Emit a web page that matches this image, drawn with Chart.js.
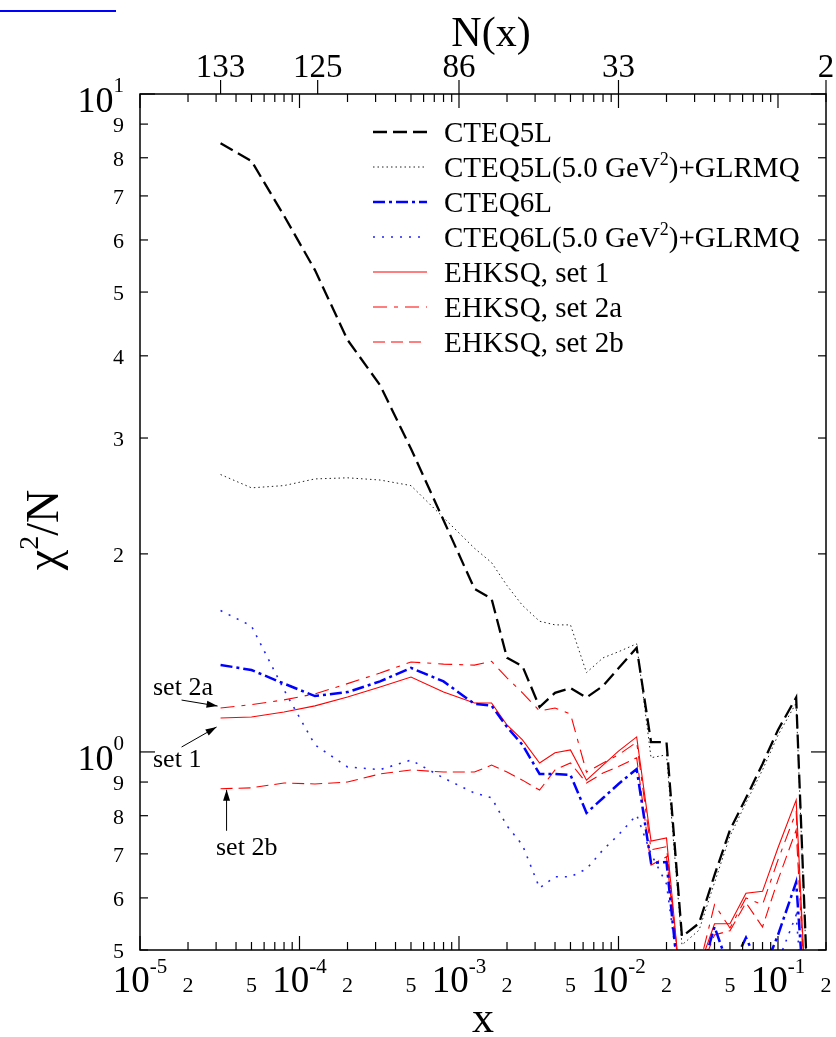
<!DOCTYPE html>
<html>
<head>
<meta charset="utf-8">
<script src="https://cdn.jsdelivr.net/npm/chart.js@4.4.1/dist/chart.umd.min.js"></script>
<style>
  html, body { margin: 0; padding: 0; background: #fff; }
  #wrap { position: relative; width: 836px; height: 1037px; }
  #bar { position: absolute; left: 0; top: 10px; width: 116px; height: 2px; background: #0000ff; }
</style>
</head>
<body>
<div id="wrap">
  <canvas id="chi2Chart" width="836" height="1037"></canvas>
  <div id="bar"></div>
</div>
<script>
// x bins shared by all curves
const xValues = [3.2e-5, 5.0e-5, 8.0e-5, 1.25e-4, 2.0e-4, 3.2e-4, 5.0e-4, 8.0e-4, 1.25e-3, 1.6e-3,
                 2.0e-3, 2.5e-3, 3.2e-3, 4.0e-3, 5.0e-3, 6.3e-3, 8.0e-3, 1.0e-2, 1.3e-2, 1.6e-2,
                 2.0e-2, 2.5e-2, 3.2e-2, 4.0e-2, 5.0e-2, 6.3e-2, 8.0e-2, 1.0e-1, 1.3e-1, 1.6e-1];

const cteq5l = [8.42, 7.91, 6.53, 5.40, 4.23, 3.61, 2.89, 2.25, 1.77, 1.71,
                1.39, 1.35, 1.17, 1.23, 1.25, 1.21, 1.26, 1.34, 1.44, 1.035,
                1.035, 0.524, 0.549, 0.65, 0.761, 0.851, 0.959, 1.08, 1.21, 0.334];
const cteq5lGlrmq = [2.64, 2.52, 2.54, 2.60, 2.61, 2.59, 2.54, 2.27, 2.04, 1.94,
                     1.79, 1.67, 1.58, 1.56, 1.56, 1.32, 1.39, 1.42, 1.46, 0.98,
                     0.99, 0.509, 0.536, 0.633, 0.745, 0.837, 0.939, 1.06, 1.187, 0.33];
const cteq6l = [1.356, 1.332, 1.27, 1.216, 1.233, 1.28, 1.342, 1.28, 1.183, 1.176,
                1.091, 1.025, 0.926, 0.926, 0.923, 0.808, 0.851, 0.894, 0.942, 0.678,
                0.68, 0.40, 0.45, 0.542, 0.465, 0.522, 0.46, 0.527, 0.634, 0.31];
const cteq6lGlrmq = [1.64, 1.554, 1.242, 1.025, 0.949, 0.94, 0.972, 0.913, 0.866, 0.852,
                     0.772, 0.722, 0.621, 0.646, 0.646, 0.664, 0.71, 0.748, 0.802, 0.70,
                     0.63, 0.42, 0.42, 0.45, 0.44, 0.46, 0.45, 0.48, 0.565, 0.3];
const ehksq1 = [1.126, 1.13, 1.15, 1.175, 1.212, 1.255, 1.30, 1.233, 1.187, 1.187,
                1.099, 1.043, 0.962, 0.997, 1.007, 0.906, 0.955, 1.003, 1.054, 0.732,
                0.74, 0.418, 0.47, 0.548, 0.548, 0.61, 0.614, 0.715, 0.845, 0.3];
const ehksq2a = [1.166, 1.18, 1.20, 1.225, 1.27, 1.318, 1.37, 1.36, 1.355, 1.373,
                 1.296, 1.23, 1.154, 1.166, 1.142, 0.932, 0.962, 0.99, 1.035, 0.71,
                 0.718, 0.42, 0.47, 0.586, 0.54, 0.60, 0.586, 0.685, 0.811, 0.3];
const ehksq2b = [0.879, 0.882, 0.897, 0.894, 0.90, 0.926, 0.939, 0.932, 0.932, 0.955,
                 0.932, 0.906, 0.875, 0.939, 0.962, 0.897, 0.929, 0.95, 0.98, 0.673,
                 0.693, 0.42, 0.46, 0.527, 0.535, 0.59, 0.542, 0.639, 0.761, 0.3];

// axis labels
const xLabelValues = [1e-5, 2e-5, 5e-5, 1e-4, 2e-4, 5e-4, 1e-3, 2e-3, 5e-3, 1e-2, 2e-2, 5e-2, 1e-1, 2e-1];
const xLabelText = ['10^{-5}', '2', '5', '10^{-4}', '2', '5', '10^{-3}', '2', '5', '10^{-2}', '2', '5', '10^{-1}', '2'];
const yLabelValues = [0.5, 0.6, 0.7, 0.8, 0.9, 1, 2, 3, 4, 5, 6, 7, 8, 9, 10];
const yLabelText = ['5', '6', '7', '8', '9', '10^{0}', '2', '3', '4', '5', '6', '7', '8', '9', '10^{1}'];
const topLabelValues = [3.2e-5, 1.3e-4, 1e-3, 1e-2, 2e-1];
const topLabelText = ['133', '125', '86', '33', '2'];

const SERIF = '"Liberation Serif", "DejaVu Serif", serif';

function splitSup(str) {
    const out = [];
    const re = /\^\{([^}]*)\}/g;
    let last = 0, m;
    while ((m = re.exec(str))) {
        if (m.index > last) out.push({ t: str.slice(last, m.index), sup: false });
        out.push({ t: m[1], sup: true });
        last = re.lastIndex;
    }
    if (last < str.length) out.push({ t: str.slice(last), sup: false });
    return out;
}

// text with superscripts; align: 'left' | 'center' | 'right'
function drawRich(ctx, str, x, y, size, supSize, rise, align) {
    const parts = splitSup(str);
    let w = 0;
    parts.forEach(p => {
        ctx.font = (p.sup ? supSize : size) + 'px ' + SERIF;
        p.w = ctx.measureText(p.t).width;
        w += p.w;
    });
    let cx = align === 'center' ? x - w / 2 : align === 'right' ? x - w : x;
    ctx.textAlign = 'left';
    ctx.textBaseline = 'alphabetic';
    parts.forEach(p => {
        ctx.font = (p.sup ? supSize : size) + 'px ' + SERIF;
        ctx.fillText(p.t, cx, p.sup ? y - rise : y);
        cx += p.w;
    });
}

function seg(ctx, x1, y1, x2, y2) {
    ctx.beginPath();
    ctx.moveTo(x1, y1);
    ctx.lineTo(x2, y2);
    ctx.stroke();
}

function arrow(ctx, x1, y1, x2, y2) {
    seg(ctx, x1, y1, x2, y2);
    const ang = Math.atan2(y2 - y1, x2 - x1);
    const len = 11, half = 3.5;
    ctx.beginPath();
    ctx.moveTo(x2, y2);
    ctx.lineTo(x2 - len * Math.cos(ang) + half * Math.sin(ang), y2 - len * Math.sin(ang) - half * Math.cos(ang));
    ctx.lineTo(x2 - len * Math.cos(ang) - half * Math.sin(ang), y2 - len * Math.sin(ang) + half * Math.cos(ang));
    ctx.closePath();
    ctx.fill();
}

const framePlugin = {
    id: 'frame',
    afterDraw(chart) {
        const { ctx, chartArea: a, scales: { x, y } } = chart;
        ctx.save();
        ctx.strokeStyle = '#000';
        ctx.fillStyle = '#000';
        ctx.lineWidth = 1.5;
        ctx.setLineDash([]);
        ctx.strokeRect(a.left, a.top, a.right - a.left, a.bottom - a.top);

        // log ticks, x
        ctx.lineWidth = 1.2;
        for (let e = -5; e <= -1; e++) {
            for (let m = 1; m <= 9; m++) {
                const v = m * Math.pow(10, e);
                if (v > 0.2 * 1.0001) continue;
                const px = x.getPixelForValue(v);
                const len = m === 1 ? 14 : 8;
                seg(ctx, px, a.bottom, px, a.bottom - len);
                seg(ctx, px, a.top, px, a.top + len);
            }
        }
        // log ticks, y
        yLabelValues.forEach(v => {
            const py = y.getPixelForValue(v);
            const len = (v === 1 || v === 10) ? 15 : 8;
            seg(ctx, a.left, py, a.left + len, py);
            seg(ctx, a.right, py, a.right - len, py);
        });
        // top N(x) ticks, outward
        topLabelValues.forEach(v => {
            const px = x.getPixelForValue(v);
            seg(ctx, px, a.top, px, a.top - 14);
        });

        // bottom labels
        xLabelValues.forEach((v, i) => {
            const px = x.getPixelForValue(v);
            const t = xLabelText[i];
            if (t.indexOf('^') >= 0) drawRich(ctx, t, px, a.bottom + 42, 37, 21, 19, 'center');
            else drawRich(ctx, t, px, a.bottom + 42, 22, 22, 0, 'center');
        });
        // left labels
        yLabelValues.forEach((v, i) => {
            const py = y.getPixelForValue(v);
            const t = yLabelText[i];
            if (t.indexOf('^') >= 0) drawRich(ctx, t, a.left - 16, py + 18, 36, 21, 20, 'right');
            else drawRich(ctx, t, a.left - 16, py + 8, 22, 22, 0, 'right');
        });
        // top labels
        topLabelValues.forEach((v, i) => {
            drawRich(ctx, topLabelText[i], x.getPixelForValue(v), a.top - 17, 33, 33, 0, 'center');
        });

        // axis titles
        drawRich(ctx, 'N(x)', 491, 46, 42, 42, 0, 'center');
        drawRich(ctx, 'x', 483, 1032, 44, 44, 0, 'center');
        ctx.save();
        ctx.translate(58, 530);
        ctx.rotate(-Math.PI / 2);
        drawRich(ctx, 'χ^{2}/N', 0, 0, 46, 28, 20, 'center');
        ctx.restore();

        // legend
        const rows = [132, 167, 202, 237, 272, 307, 342];
        chart.data.datasets.forEach((ds, i) => {
            const ly = rows[i];
            ctx.save();
            ctx.strokeStyle = ds.borderColor;
            ctx.lineWidth = ds.borderWidth;
            ctx.setLineDash(ds.borderDash || []);
            seg(ctx, 373, ly, 427, ly);
            ctx.restore();
            ctx.fillStyle = '#000';
            drawRich(ctx, ds.label, 444, ly + 10, 29, 18, 12, 'left');
        });

        // annotations pointing at the first point of each EHKSQ curve
        ctx.lineWidth = 1;
        ctx.setLineDash([]);
        const x0 = x.getPixelForValue(xValues[0]);
        const y2a = y.getPixelForValue(ehksq2a[0]);
        const y1 = y.getPixelForValue(ehksq1[0]);
        const y2b = y.getPixelForValue(ehksq2b[0]);
        arrow(ctx, x0 - 39, y2a - 8, x0 - 3, y2a - 2);
        drawRich(ctx, 'set 2a', 153, 695, 26, 26, 0, 'left');
        arrow(ctx, x0 - 39, y1 + 29, x0 - 4, y1 + 9);
        drawRich(ctx, 'set 1', 153, 767, 26, 26, 0, 'left');
        arrow(ctx, x0 + 6, y2b + 42, x0 + 6, y2b + 1);
        drawRich(ctx, 'set 2b', 216, 855, 26, 26, 0, 'left');
        ctx.restore();
    }
};

function pts(arr) {
    return xValues.map((xv, i) => ({ x: xv, y: arr[i] }));
}

new Chart(document.getElementById('chi2Chart'), {
    type: 'line',
    data: {
        datasets: [{
            label: 'CTEQ5L',
            data: pts(cteq5l),
            borderColor: '#000000',
            borderWidth: 2.3,
            borderDash: [14, 6]
        }, {
            label: 'CTEQ5L(5.0 GeV^{2})+GLRMQ',
            data: pts(cteq5lGlrmq),
            borderColor: '#222222',
            borderWidth: 1,
            borderDash: [1.5, 3]
        }, {
            label: 'CTEQ6L',
            data: pts(cteq6l),
            borderColor: '#0000ff',
            borderWidth: 2.5,
            borderDash: [12, 4, 3, 4]
        }, {
            label: 'CTEQ6L(5.0 GeV^{2})+GLRMQ',
            data: pts(cteq6lGlrmq),
            borderColor: '#2222ff',
            borderWidth: 1.6,
            borderDash: [2, 7]
        }, {
            label: 'EHKSQ, set 1',
            data: pts(ehksq1),
            borderColor: '#ff0000',
            borderWidth: 1.1
        }, {
            label: 'EHKSQ, set 2a',
            data: pts(ehksq2a),
            borderColor: '#ff0000',
            borderWidth: 1.1,
            borderDash: [14, 7, 4, 7]
        }, {
            label: 'EHKSQ, set 2b',
            data: pts(ehksq2b),
            borderColor: '#ff0000',
            borderWidth: 1.1,
            borderDash: [12, 6]
        }]
    },
    options: {
        responsive: false,
        devicePixelRatio: 1,
        animation: false,
        layout: { padding: { left: 140, top: 94, right: 10, bottom: 87 } },
        elements: { point: { radius: 0 }, line: { tension: 0 } },
        scales: {
            x: { type: 'logarithmic', min: 1e-5, max: 0.2, display: false },
            y: { type: 'logarithmic', min: 0.5, max: 10, display: false }
        },
        plugins: {
            legend: { display: false },
            tooltip: { enabled: false }
        }
    },
    plugins: [framePlugin]
});
</script>
</body>
</html>
